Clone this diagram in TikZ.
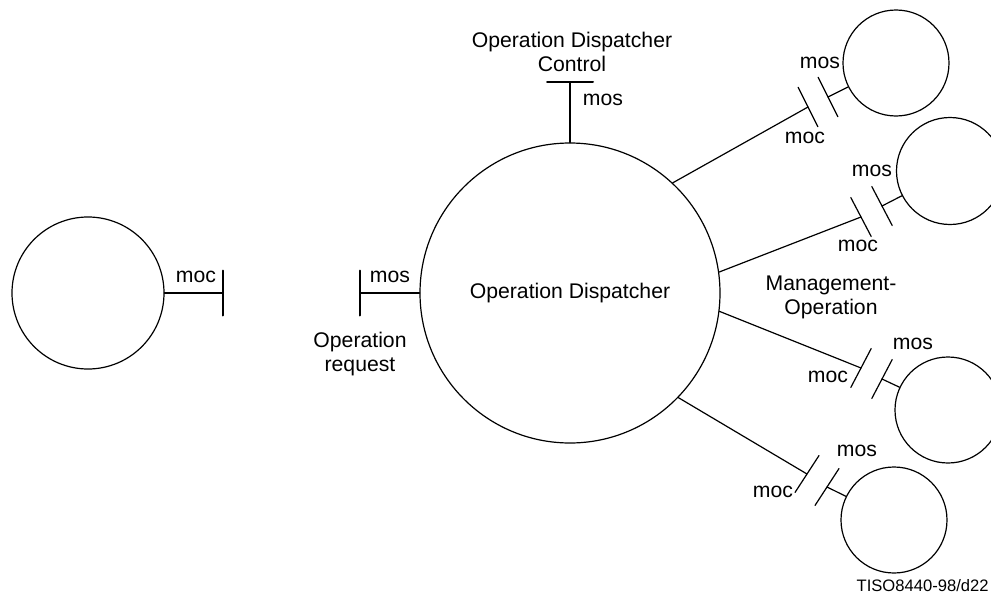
\documentclass[tikz,border=0pt]{standalone}
\usepackage{fontspec}
\setmainfont{Liberation Sans}
\usetikzlibrary{calc}
\begin{document}
\begin{tikzpicture}[x=0.5pt, y=-0.5pt, line cap=round, line join=round,
	font=\fontsize{10.6}{12}\selectfont, line width=0.6pt]
	\tikzset{obj/.style={circle, draw, inner sep=0pt, minimum size=#1},
		portline/.style={line width=1pt},
		txt/.style={inner sep=0pt, align=center}}
	\useasboundingbox (0,0) rectangle (991,594);
	% the objects
	\node[obj=150pt, txt] (disp) at (570,293) {Operation Dispatcher};
	\node[obj=76pt] (lft) at (88,293) {};
	\node[obj=53pt] (c1) at (896,63) {};
	\node[obj=53.5pt] (c2) at (950,171) {};
	\node[obj=53pt] (c3) at (948,410) {};
	\node[obj=53pt] (c4) at (894,520) {};
	% single ports
	\coordinate (lbar) at (223,293);
	\coordinate (rbar) at (360,293);
	\coordinate (tbar) at (570,82);
	\draw[portline] (lft) -- (lbar) ($(lbar)+(0,-22.5)$) -- ($(lbar)+(0,22.5)$);
	\draw[portline] (disp.west) -- (rbar) ($(rbar)+(0,-22.5)$) -- ($(rbar)+(0,22.5)$);
	\draw[portline] (disp.north) -- (tbar) ($(tbar)+(-23,0)$) -- ($(tbar)+(23,0)$);
	\node[txt] (lmoc) at (196,277) {moc};
	\node[txt] (rmos) at (390,277) {mos};
	\node[txt] (tmos) at (603,100) {mos};
	\node[txt] (req) at (360,354) {Operation\\request};
	\node[txt] (ctl) at (572,52) {Operation Dispatcher\\Control};
	% double bars to the managed objects
	\coordinate (moc1) at (808,107); \coordinate (mos1) at (828,97);
	\coordinate (moc2) at (861,217); \coordinate (mos2) at (882,206);
	\coordinate (moc3) at (861,368); \coordinate (mos3) at (882,379);
	\coordinate (moc4) at (807,474); \coordinate (mos4) at (827,487);
	\foreach \i/\a in {1/47,2/8,3/-7,4/-44}{
		\draw (disp.\a) -- (moc\i);
		\draw (mos\i) -- (c\i);
		\draw ($(moc\i)!11pt!90:(mos\i)$) -- ($(moc\i)!11pt!-90:(mos\i)$);
		\draw ($(mos\i)!11pt!90:(moc\i)$) -- ($(mos\i)!11pt!-90:(moc\i)$);
	}
	\node[txt] (mos1l) at (820,63) {mos};
	\node[txt] (moc1l) at (805,138) {moc};
	\node[txt] (mos2l) at (872,171) {mos};
	\node[txt] (moc2l) at (858,246) {moc};
	\node[txt] (mos3l) at (913,344) {mos};
	\node[txt] (moc3l) at (828,377) {moc};
	\node[txt] (mos4l) at (857,451) {mos};
	\node[txt] (moc4l) at (773,492) {moc};
	\node[txt] (mgmt) at (831,297) {Management-\\Operation};
	\node[txt, anchor=west, font=\fontsize{8.3}{10}\selectfont] (ref) at (856,586) {TISO8440-98/d22};
\end{tikzpicture}
\end{document}
